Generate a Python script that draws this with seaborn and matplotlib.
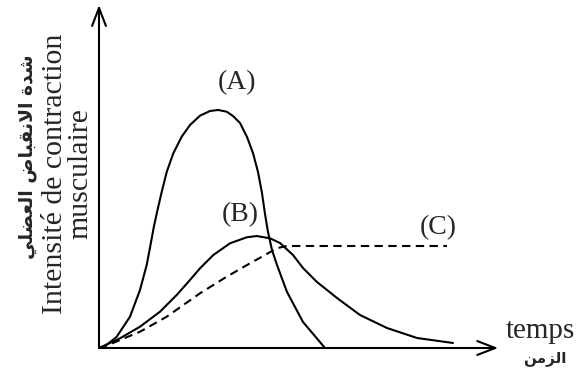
import matplotlib
matplotlib.use("Agg")
import matplotlib.pyplot as plt
import seaborn as sns
import pandas as pd

# curve values (time and intensity in arbitrary units, axes 0..100)
a_time = [0, 1.08, 4.45, 7.79, 10.30, 11.98, 12.94, 13.82, 14.70, 15.75, 17.01, 18.67,
          20.78, 22.86, 25.38, 27.89, 29.97, 32.09, 33.67, 35.43, 37.19, 38.69, 39.95,
          40.95, 41.71, 42.46, 43.47, 44.72, 47.24, 51.26, 54.02, 56.78]
a_force = [0, 0.09, 3.29, 9.13, 16.91, 24.20, 30.03, 35.57, 40.23, 45.48, 51.31, 56.76,
           61.60, 65.01, 67.73, 69.10, 69.39, 68.89, 67.64, 65.60, 61.52, 56.85, 51.31,
           45.19, 39.07, 33.82, 28.57, 24.20, 16.33, 7.58, 3.79, 0]

b_time = [0, 5.28, 10.30, 15.33, 19.52, 22.86, 25.38, 28.72, 32.91, 37.11, 39.62, 42.96,
          45.48, 48.74, 51.26, 54.77, 59.80, 65.58, 72.36, 79.90, 88.94]
b_force = [0, 2.83, 6.21, 10.58, 15.45, 19.83, 23.24, 27.11, 30.52, 32.27, 32.65, 31.98,
           30.61, 27.11, 23.32, 19.24, 14.58, 9.62, 5.83, 2.92, 1.46]

c_time = [0, 3.52, 10.30, 17.01, 25.38, 32.09, 37.94, 41.71, 44.65, 46.73, 49.25, 87.44]
c_force = [0, 1.46, 4.75, 9.13, 15.95, 20.79, 24.69, 27.11, 29.07, 29.65, 29.74, 29.74]

curve_labels = ["(A)", "(B)", "(C)"]
label_pos = [(34.7, 77.3), (35.4, 38.8), (85.2, 35.0)]

ylabel_fr = "Intensité de contraction\nmusculaire"
# Arabic written in presentation forms, visual order (matplotlib does no shaping)
ylabel_ar = "\ufef2\ufee0\ufec0\ufecc\ufedf\ufe8d \ufebd\ufe8e\ufe92\ufed8\ufee7\ufefb\ufe8d \ufe93\ufeaa\ufeb7"
xlabel_fr = "temps"
xlabel_ar = "\ufee6\ufee3\ufeb0\ufedf\ufe8d"

sns.set_style("white")
plt.rcParams["font.family"] = ["Liberation Serif", "DejaVu Serif"]

fig = plt.figure(figsize=(5.81, 3.78), dpi=100)
ax = fig.add_axes([99 / 581, 30 / 378, 398 / 581, 343 / 378])

lw = 1.5
sns.lineplot(x=a_time, y=a_force, ax=ax, color="black", lw=lw, sort=False, estimator=None)
sns.lineplot(x=b_time, y=b_force, ax=ax, color="black", lw=lw, sort=False, estimator=None)
sns.lineplot(x=c_time, y=c_force, ax=ax, color="black", lw=lw, sort=False, estimator=None,
             linestyle=(0, (4, 2.6)))
for line in ax.lines:
    line.set_solid_joinstyle("round")

ax.set_xlim(0, 100)
ax.set_ylim(0, 100)
ax.axis("off")

# axes drawn as arrows
arrow = dict(arrowstyle="->,head_length=1.3,head_width=0.5", color="black", lw=lw,
             shrinkA=0, shrinkB=0, mutation_scale=10)
ax.annotate("", xy=(1.003, 0), xytext=(0, 0), xycoords="axes fraction",
            textcoords="axes fraction", arrowprops=arrow, annotation_clip=False)
ax.annotate("", xy=(0, 1.0), xytext=(0, 0), xycoords="axes fraction",
            textcoords="axes fraction", arrowprops=arrow, annotation_clip=False)

for lab, (tx, ty) in zip(curve_labels, label_pos):
    ax.text(tx, ty, lab, ha="center", va="center", fontsize=20)

fig.text(68 / 581, 1 - 174 / 378, ylabel_fr, rotation=90, ha="center", va="center",
         fontsize=21.5, multialignment="center", linespacing=0.95)
fig.text(28 / 581, 1 - 157 / 378, ylabel_ar, rotation=90, ha="center", va="center",
         fontsize=13.5, fontweight="bold", family=["DejaVu Sans"])
fig.text(506 / 581, 1 - 338 / 378, xlabel_fr, ha="left", va="baseline", fontsize=21)
fig.text(545 / 581, 1 - 358 / 378, xlabel_ar, ha="center", va="center",
         fontsize=11, fontweight="bold", family=["DejaVu Sans"])

fig.savefig("out.png", dpi=100)
